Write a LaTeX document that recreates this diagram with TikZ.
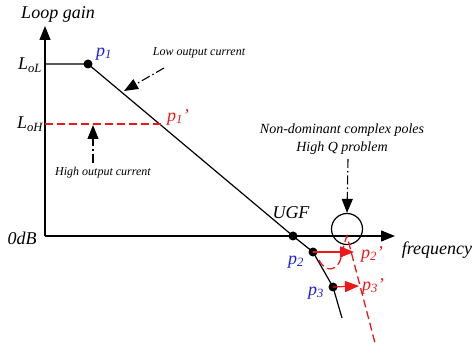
\documentclass[tikz,border=0pt]{standalone}
\usepackage{fontspec}
\setmainfont{Liberation Serif}
\usetikzlibrary{arrows.meta}
\definecolor{pblue}{RGB}{30,30,220}
\definecolor{pred}{RGB}{235,25,25}
\begin{document}
\begin{tikzpicture}[x=1pt,y=-1pt,line width=1.2pt,
    lbl/.style={font=\itshape\fontsize{18}{20}\selectfont,inner sep=0pt},
    note/.style={font=\itshape\fontsize{12}{17}\selectfont,inner sep=0pt,align=center},
    dot/.style={circle,fill=black,inner sep=0pt,minimum size=9pt},
    bigtip/.style={-{Triangle[length=14pt,width=11pt]}},
    leader/.style={bigtip,line width=1.1pt,dash pattern=on 9pt off 3pt on 1.5pt off 3pt},
    reddash/.style={draw=pred,line width=1.3pt,dash pattern=on 8pt off 4pt}]
    \useasboundingbox (0,0) rectangle (474,347);

    % axes
    \coordinate (o) at (45,236);
    \coordinate (ytip) at (45,26);
    \coordinate (xtip) at (395,236);
    \draw[bigtip] (o) -- (ytip);
    \draw[bigtip] (o) -- (xtip);
    \node[lbl] (ylabel) at (58,14) {Loop gain};
    \node[lbl] (xlabel) at (437,250) {frequency};
    \node[lbl] (zero) at (22,238) {0dB};

    % loop gain curve
    \coordinate (lol) at (45,64);
    \coordinate (loh) at (45,124);
    \coordinate (p1x) at (161,124);
    \coordinate (tail) at (342,318);
    \node[dot] (p1) at (88,64) {};
    \node[dot] (ugf) at (293,236) {};
    \node[dot] (p2) at (313,252) {};
    \node[dot] (p3) at (333,287) {};
    \draw (lol) -- (p1.center) -- (ugf.center) -- (p2.center) -- (p3.center) -- (tail);
    \draw[reddash] (loh) -- (p1x);

    \node[lbl] (lolabel) at (30,65) {L\textsubscript{\itshape oL}};
    \node[lbl] (lohlabel) at (30,124) {L\textsubscript{\itshape oH}};
    \node[lbl,text=pblue] (p1label) at (104,54) {p\textsubscript{1}};
    \node[lbl,text=pred] (p1xlabel) at (178,117) {p\textsubscript{1}'};
    \node[lbl] (ugflabel) at (291,213) {UGF};
    \node[lbl,text=pblue] (p2label) at (296,262) {p\textsubscript{2}};
    \node[lbl,text=pblue] (p3label) at (316,293) {p\textsubscript{3}};

    % current notes
    \node[note] (low) at (199,53) {Low output current};
    \node[note] (high) at (103,173) {High output current};
    \coordinate (lowfrom) at (164,68);
    \coordinate (lowto) at (124,91);
    \coordinate (highfrom) at (93,163);
    \coordinate (highto) at (93,125);
    \draw[leader] (lowfrom) -- (lowto);
    \draw[leader] (highfrom) -- (highto);

    % non-dominant poles
    \node[draw,circle,minimum size=31pt,inner sep=0pt] (hq) at (347,229) {};
    \node[note,font=\itshape\fontsize{14}{18}\selectfont] (nd) at (342,139) {Non-dominant complex poles\\High Q problem};
    \coordinate (ndfrom) at (348,159);
    \draw[leader] (ndfrom) -- (hq.north);

    % moved poles
    \coordinate (p2x) at (354,252);
    \coordinate (p3x) at (359,286);
    \draw[pred,bigtip] (p2.center) -- (p2x);
    \draw[pred,bigtip] (p3.center) -- (p3x);
    \node[lbl,text=pred] (p2xlabel) at (372,254) {p\textsubscript{2}'};
    \node[lbl,text=pred] (p3xlabel) at (373,286) {p\textsubscript{3}'};
    \coordinate (bend) at (319,260);
    \coordinate (peak) at (347,236);
    \coordinate (rolloff) at (375,343);
    \draw[reddash] (bend) .. controls (326,274) and (338,270) .. (341,258)
        .. controls (343,250) and (345,240) .. (peak) -- (rolloff);
\end{tikzpicture}
\end{document}
